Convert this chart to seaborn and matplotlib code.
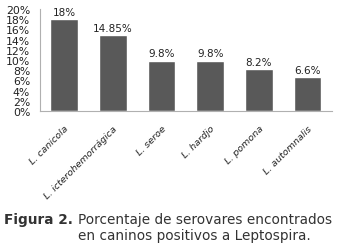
import matplotlib
matplotlib.use("Agg")
import matplotlib.pyplot as plt
import seaborn as sns
import pandas as pd

serovares = ["L. canicola", "L. icterohemorrágica", "L. seroe", "L. hardjo",
             "L. pomona", "L. automnalis"]
porcentaje = [18, 14.85, 9.8, 9.8, 8.2, 6.6]
etiquetas = ["18%", "14.85%", "9.8%", "9.8%", "8.2%", "6.6%"]
yticks = [0, 2, 4, 6, 8, 10, 12, 14, 16, 18, 20]

df = pd.DataFrame({"serovar": serovares, "pct": porcentaje})

sns.set_style("white")
plt.rcParams["font.family"] = ["DejaVu Sans"]

fig = plt.figure(figsize=(3.38, 2.51), dpi=100)
ax = fig.add_axes([0.118, 0.554, 0.864, 0.406])

sns.barplot(data=df, x="serovar", y="pct", color="#595959", width=0.57,
            saturation=1, ax=ax)

for i, (v, t) in enumerate(zip(porcentaje, etiquetas)):
    ax.text(i, v + 0.5, t, ha="center", va="bottom", fontsize=7.5, color="#222222")

ax.set_xlim(-0.5, 5.5)
ax.set_ylim(0, 20)
ax.set_yticks(yticks)
ax.set_yticklabels([f"{y}%" for y in yticks], fontsize=7.8, color="#222222")
ax.set_xticks(range(len(serovares)))
ax.set_xticklabels(serovares, rotation=45, ha="right", rotation_mode="anchor",
                   fontsize=6.8, style="italic", color="#222222")
ax.tick_params(axis="y", length=0, pad=7)
ax.tick_params(axis="x", length=0, pad=9)
ax.set_xlabel("")
ax.set_ylabel("")
for s in ["top", "right"]:
    ax.spines[s].set_visible(False)
for s in ["left", "bottom"]:
    ax.spines[s].set_color("#b0b0b0")
    ax.spines[s].set_linewidth(0.8)

fig.text(0.012, 0.124, "Figura 2.", fontsize=9.8, fontweight="bold", color="#333333",
         va="center")
fig.text(0.231, 0.124, "Porcentaje de serovares encontrados", fontsize=9.8,
         color="#333333", va="center")
fig.text(0.231, 0.06, "en caninos positivos a Leptospira.", fontsize=9.8,
         color="#333333", va="center")

fig.savefig("out.png", dpi=100)
